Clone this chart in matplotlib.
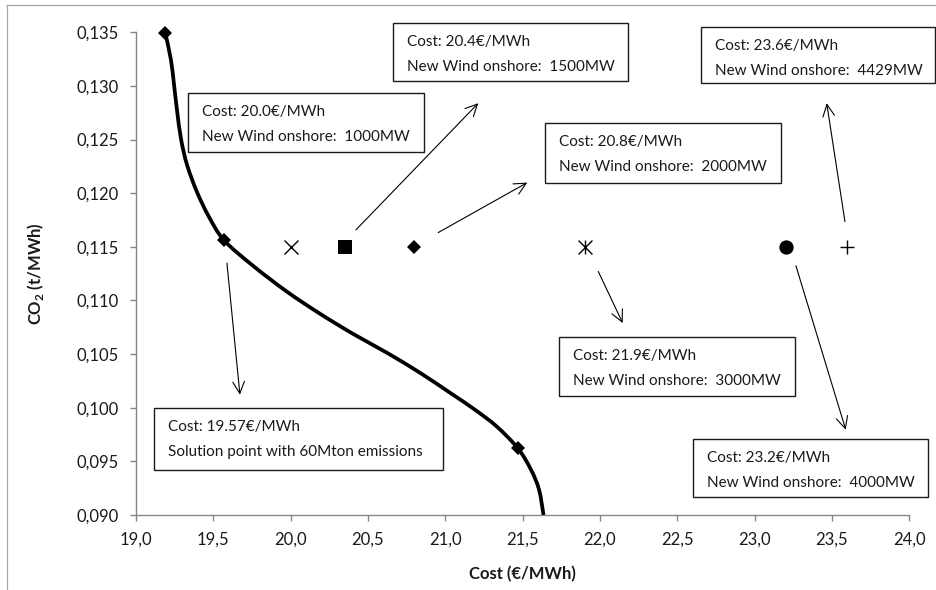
import matplotlib
matplotlib.use("Agg")
import matplotlib.pyplot as plt
from matplotlib.patches import Rectangle, PathPatch
from matplotlib.path import Path
from matplotlib.lines import Line2D
from matplotlib.ticker import FuncFormatter

plt.rcParams["font.family"] = ["Lato", "DejaVu Sans"]
plt.rcParams["mathtext.fontset"] = "custom"
plt.rcParams["mathtext.rm"] = "Lato"
plt.rcParams["mathtext.bf"] = "Lato:bold"

# Pareto front: cost vs CO2 intensity
cost_curve = [19.19, 19.226, 19.246, 19.265, 19.291, 19.330, 19.394, 19.472, 19.57,
              19.757, 19.977, 20.190, 20.403, 20.623, 20.836, 21.030, 21.192, 21.334,
              21.47, 21.554, 21.606, 21.635]
co2_curve = [0.1349, 0.13242, 0.13009, 0.12776, 0.12506, 0.12264, 0.12012, 0.11779, 0.1156,
             0.11323, 0.11081, 0.10876, 0.10689, 0.10512, 0.10326, 0.10140, 0.09981, 0.09823,
             0.0962, 0.09422, 0.09236, 0.0900]

# Highlighted points on the front
front_cost = [19.19, 19.57, 21.47]
front_co2 = [0.1349, 0.1156, 0.0962]

# Wind onshore scenarios
scenario_cost = [20.0, 20.35, 20.8, 21.9, 23.2, 23.6]
scenario_co2 = [0.115, 0.115, 0.115, 0.115, 0.115, 0.115]
scenario_wind_mw = [1000, 1500, 2000, 3000, 4000, 4429]

solution_cost = 19.57
solution_text = "Solution point with 60Mton emissions"

x_ticks = [19.0, 19.5, 20.0, 20.5, 21.0, 21.5, 22.0, 22.5, 23.0, 23.5, 24.0]
y_ticks = [0.090, 0.095, 0.100, 0.105, 0.110, 0.115, 0.120, 0.125, 0.130, 0.135]

# Excel-like star marker: an x with a vertical bar
star = Path([(-0.5, -0.5), (0.5, 0.5), (-0.5, 0.5), (0.5, -0.5), (0, -0.5), (0, 0.5)],
            [Path.MOVETO, Path.LINETO, Path.MOVETO, Path.LINETO, Path.MOVETO, Path.LINETO])
scenario_style = [
    dict(marker="x", ms=10, mew=1.0, mfc="none"),
    dict(marker="s", ms=10.3, mew=0),
    dict(marker="D", ms=7, mew=0),
    dict(marker=star, ms=10, mew=1.0, mfc="none"),
    dict(marker="o", ms=10.3, mew=0),
    dict(marker="+", ms=10, mew=1.0),
]

# Label boxes (x0, y_top, x1, y_bottom) and arrows (tail, head) per scenario
scenario_boxes = [
    (19.336, 0.12937, 20.862, 0.12388),
    (20.660, 0.13589, 22.181, 0.13046),
    (21.646, 0.12652, 23.168, 0.12099),
    (21.737, 0.10655, 23.261, 0.10105),
    (22.599, 0.09711, 24.122, 0.09168),
    (22.651, 0.13549, 24.164, 0.13023),
]
scenario_arrows = [
    None,
    ((20.422, 0.11658), (21.213, 0.12839)),
    ((20.954, 0.11633), (21.530, 0.12099)),
    ((21.989, 0.11270), (22.147, 0.10789)),
    ((23.267, 0.11323), (23.589, 0.09795)),
    ((23.584, 0.11735), (23.466, 0.12839)),
]
solution_box = (19.118, 0.09997, 20.987, 0.09422)
solution_arrow = ((19.588, 0.11348), (19.672, 0.10121))


def smooth_path(xs, ys):
    """Smoothed line through the points (Catmull-Rom drawn as cubic Bezier segments)."""
    pts = list(zip(xs, ys))
    ext = [pts[0]] + pts + [pts[-1]]
    verts = [pts[0]]
    codes = [Path.MOVETO]
    for i in range(1, len(ext) - 2):
        p0, p1, p2, p3 = ext[i - 1], ext[i], ext[i + 1], ext[i + 2]
        c1 = (p1[0] + (p2[0] - p0[0]) / 6, p1[1] + (p2[1] - p0[1]) / 6)
        c2 = (p2[0] - (p3[0] - p1[0]) / 6, p2[1] - (p3[1] - p1[1]) / 6)
        verts += [c1, c2, p2]
        codes += [Path.CURVE4] * 3
    return Path(verts, codes)


fig = plt.figure(figsize=(9.36, 5.9), dpi=100)
ax = fig.add_axes([136 / 936, 75 / 590, 773.3 / 936, 482.7 / 590])

# chart area frame
frame_kw = dict(transform=fig.transFigure, color="#a6a6a6", lw=0.9)
fig.add_artist(Line2D([7 / 936, 7 / 936], [0, 1 - 5 / 590], **frame_kw))
fig.add_artist(Line2D([7 / 936, 1], [1 - 5 / 590, 1 - 5 / 590], **frame_kw))

ax.add_patch(PathPatch(smooth_path(cost_curve, co2_curve), fill=False, ec="black",
                       lw=2.7, capstyle="butt", zorder=3))
ax.plot(front_cost, front_co2, ls="none", marker="D", ms=7, color="black", mew=0,
        zorder=4, clip_on=False)

for c, y, st in zip(scenario_cost, scenario_co2, scenario_style):
    ax.plot([c], [y], ls="none", color="black", zorder=4, **st)

text_color = "#1a1a1a"


def draw_box(box, line1, line2):
    x0, yt, x1, yb = box
    ax.add_patch(Rectangle((x0, yb), x1 - x0, yt - yb, fill=True, fc="white",
                           ec=text_color, lw=1.0, clip_on=False, zorder=5))
    for txt, dy in ((line1, -19), (line2, -44)):
        ax.annotate(txt, xy=(x0, yt), xytext=(14, dy), textcoords="offset pixels",
                    ha="left", va="center", fontsize=11, color=text_color,
                    annotation_clip=False, zorder=6)


def draw_arrow(arrow):
    tail, head = arrow
    ax.annotate("", xy=head, xytext=tail, annotation_clip=False,
                arrowprops=dict(arrowstyle="->,head_length=0.85,head_width=0.42",
                                mutation_scale=10, lw=0.8, color="black",
                                shrinkA=0, shrinkB=0))


for c, mw, box, arr in zip(scenario_cost, scenario_wind_mw, scenario_boxes, scenario_arrows):
    draw_box(box, f"Cost: {c:.1f}€/MWh", f"New Wind onshore:  {mw}MW")
    if arr is not None:
        draw_arrow(arr)

draw_box(solution_box, f"Cost: {solution_cost:.2f}€/MWh", solution_text)
draw_arrow(solution_arrow)

ax.set_xlim(19.0, 24.0)
ax.set_ylim(0.090, 0.135)
ax.set_xticks(x_ticks)
ax.set_yticks(y_ticks)
ax.xaxis.set_major_formatter(FuncFormatter(lambda v, p: f"{v:.1f}".replace(".", ",")))
ax.yaxis.set_major_formatter(FuncFormatter(lambda v, p: f"{v:.3f}".replace(".", ",")))

for side in ("top", "right"):
    ax.spines[side].set_visible(False)
for side in ("left", "bottom"):
    ax.spines[side].set_color("#868686")
    ax.spines[side].set_linewidth(1.0)
ax.tick_params(axis="both", direction="out", color="#868686", width=1.0,
               labelsize=12, labelcolor=text_color)
ax.tick_params(axis="x", length=4, pad=8)
ax.tick_params(axis="y", length=4.5, pad=8)

ax.set_xlabel("Cost (€/MWh)", fontsize=12, fontweight="bold", color=text_color, labelpad=13)
ax.set_ylabel(r"CO$_\mathbf{2}$ (t/MWh)", fontsize=12, fontweight="bold",
              color=text_color, labelpad=22)

fig.savefig("out.png", dpi=100)
